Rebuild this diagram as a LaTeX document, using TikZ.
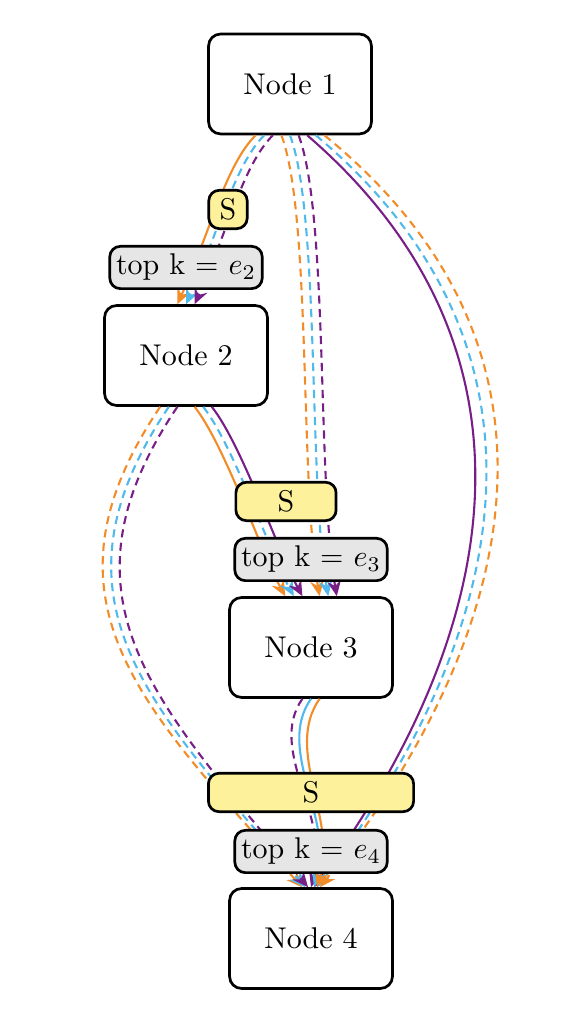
\documentclass[tikz,border=0pt]{standalone}
\usetikzlibrary{arrows.meta}
\definecolor{edgeorange}{RGB}{242,140,40}
\definecolor{edgecyan}{RGB}{80,185,235}
\definecolor{edgepurple}{RGB}{120,30,135}
\definecolor{sfill}{RGB}{253,241,155}
\definecolor{kfill}{RGB}{230,230,230}

\begin{document}
\begin{tikzpicture}[x=1pt,y=1pt,
    box/.style={draw,line width=0.9pt,rounded corners=4pt,minimum width=54.3pt,minimum height=33.3pt},
    sbox/.style={draw,line width=0.9pt,rounded corners=3.5pt,fill=sfill,minimum height=12.8pt,inner sep=2pt},
    kbox/.style={draw,line width=0.9pt,rounded corners=3.5pt,fill=kfill,minimum width=50.8pt,minimum height=14.1pt,inner sep=2pt},
    edge/.style={line width=0.7pt,-{Stealth[length=5.2pt,width=4.6pt,inset=1.8pt]}},
    dashline/.style={dash pattern=on 2.7pt off 1.8pt}]

        \useasboundingbox (0,0) rectangle (192,339.33);

        \node[box] (n1) at (96.67,311.33) {Node 1};
        \node[box] (n2) at (62,220.83) {Node 2};
        \node[box] (n3) at (103.67,123.5) {Node 3};
        \node[box] (n4) at (103.67,26.5) {Node 4};

        % node 1 to node 2
        \foreach \col/\sty/\sa/\sb in {edgeorange/solid/-11.47/-2.87, edgecyan/dashline/-8.6/0, edgepurple/dashline/-5.73/2.87}
        \draw[edge,\col,\sty] ([xshift=\sa pt]n1.south) .. controls +(-10,-10) and +(11,24.33) .. ([xshift=\sb pt]n2.north);

        % node 1 to node 3
        \foreach \col/\sa/\sb in {edgeorange/-2.87/2.87, edgecyan/0/5.73, edgepurple/2.87/8.6}
        \draw[edge,dashline,\col] ([xshift=\sa pt]n1.south) .. controls +(10,-26.67) and +(-6.67,38.67) .. ([xshift=\sb pt]n3.north);

        % node 1 to node 4
        \foreach \col/\sty/\sa/\sb/\ca/\cb in {edgepurple/solid/5.73/1/79.67/66, edgecyan/dashline/8.6/2/82/68.3, edgeorange/dashline/11.47/3/84.3/70.6}
        \draw[edge,\col,\sty] ([xshift=\sa pt]n1.south) .. controls +(\ca,-68.67) and +(\cb,90) .. ([xshift=\sb pt]n4.north);

        % node 2 to node 3
        \foreach \col/\sty/\sa/\sb in {edgeorange/solid/2.87/-8.6, edgecyan/dashline/5.73/-5.73, edgepurple/solid/8.6/-2.87}
        \draw[edge,\col,\sty] ([xshift=\sa pt]n2.south) .. controls +(10,-12.67) and +(-8,14.67) .. ([xshift=\sb pt]n3.north);

        % node 2 to node 4
        \foreach \col/\sa/\sb/\cb in {edgeorange/-8.6/-3/-54, edgecyan/-5.73/-2/-52, edgepurple/-2.87/-1/-50}
        \draw[edge,dashline,\col] ([xshift=\sa pt]n2.south) .. controls +(-43.33,-64.33) and +(\cb,60.67) .. ([xshift=\sb pt]n4.north);

        % node 3 to node 4
        \foreach \col/\sty/\sa/\sb in {edgepurple/dashline/-2.87/0, edgecyan/solid/0/1, edgeorange/solid/2.87/2}
        \draw[edge,\col,\sty] ([xshift=\sa pt]n3.south) .. controls +(-12,-17) and +(7,22.33) .. ([xshift=\sb pt]n4.north);

        \node[sbox,minimum width=12.8pt] (s2) at (76,269.5) {S};
        \node[kbox] (k2) at (62,250.17) {top k = $e_2$};
        \node[sbox,minimum width=33.4pt] (s3) at (95.33,172.17) {S};
        \node[kbox] (k3) at (103.67,152.83) {top k = $e_3$};
        \node[sbox,minimum width=68.4pt] (s4) at (103.67,75.17) {S};
        \node[kbox] (k4) at (103.67,55.5) {top k = $e_4$};

\end{tikzpicture}
\end{document}
